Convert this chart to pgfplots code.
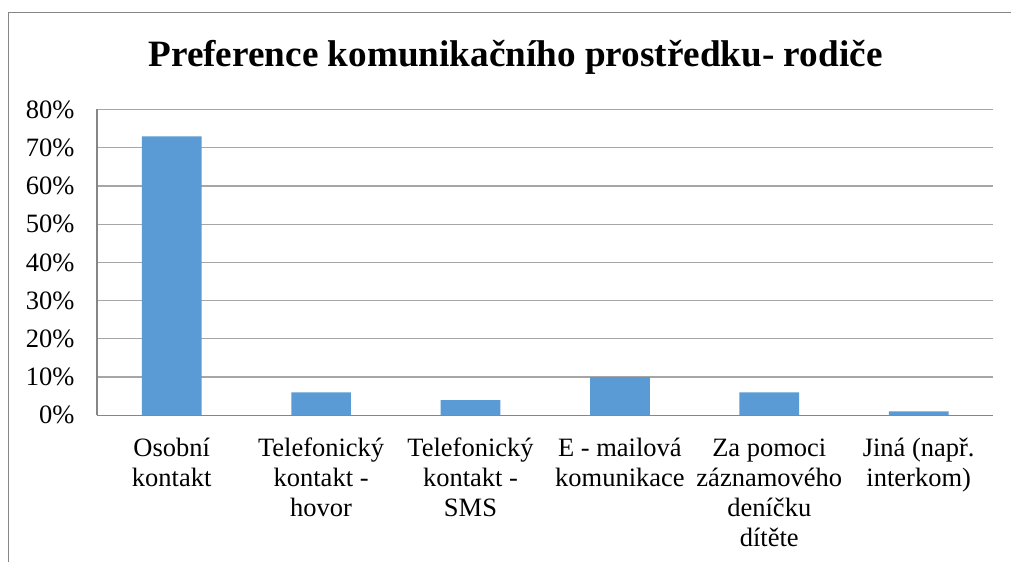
\documentclass[border=0pt]{standalone}
\usepackage{pgfplots}
\pgfplotsset{compat=1.18}
\usepackage{fontspec}
\setmainfont{Liberation Serif}
\definecolor{barblue}{HTML}{5B9BD5}
\definecolor{gridgray}{HTML}{A6A6A6}
\definecolor{axisgray}{HTML}{868686}
\begin{document}
\begin{tikzpicture}[x=1pt,y=1pt]
\path[use as bounding box] (0,0) rectangle (1011,562);
\fill[white] (0,0) rectangle (1011,562);
\draw[axisgray, line width=1.3pt] (8.5,0) -- (8.5,549.3) -- (1011,549.3);
\node[font=\fontsize{37.2}{42}\selectfont\bfseries, anchor=base] at (515.5,495) {Preference komunikačního prostředku- rodiče};
\begin{axis}[
  at={(97pt,146.7pt)}, anchor=south west,
  scale only axis, width=896.4pt, height=305.8pt,
  xmin=-0.5, xmax=5.5, ymin=0, ymax=80,
  ytick={0,10,...,80},
  yticklabel={\pgfmathprintnumber{\tick}\%},
  /pgf/number format/assume math mode=true,
  xtick={0,1,2,3,4,5},
  xticklabels={{\strut Osobní\\kontakt},{\strut Telefonický\\kontakt -\\hovor},{\strut Telefonický\\kontakt -\\SMS},{\strut E - mailová\\komunikace},{\strut Za pomoci\\záznamového\\deníčku\\dítěte},{\strut Jiná (např.\\interkom)}},
  xticklabel style={align=center, font=\fontsize{26.5}{30.3}\selectfont, anchor=north, yshift=-16pt},
  yticklabel style={font=\fontsize{26.5}{30.3}\selectfont, xshift=-19pt},
  major tick length=0pt,
  ymajorgrids, grid style={gridgray, line width=1.3pt},
  axis x line*=bottom, axis y line*=left,
  x axis line style={axisgray, line width=1.5pt, -},
  y axis line style={axisgray, line width=1.3pt, -},
  tick style={draw=none},
  ybar, bar width=59.7pt,
]
\addplot[fill=barblue, draw=none] coordinates {(0,73) (1,6) (2,4) (3,10) (4,6) (5,1)};
\end{axis}
\end{tikzpicture}
\end{document}
